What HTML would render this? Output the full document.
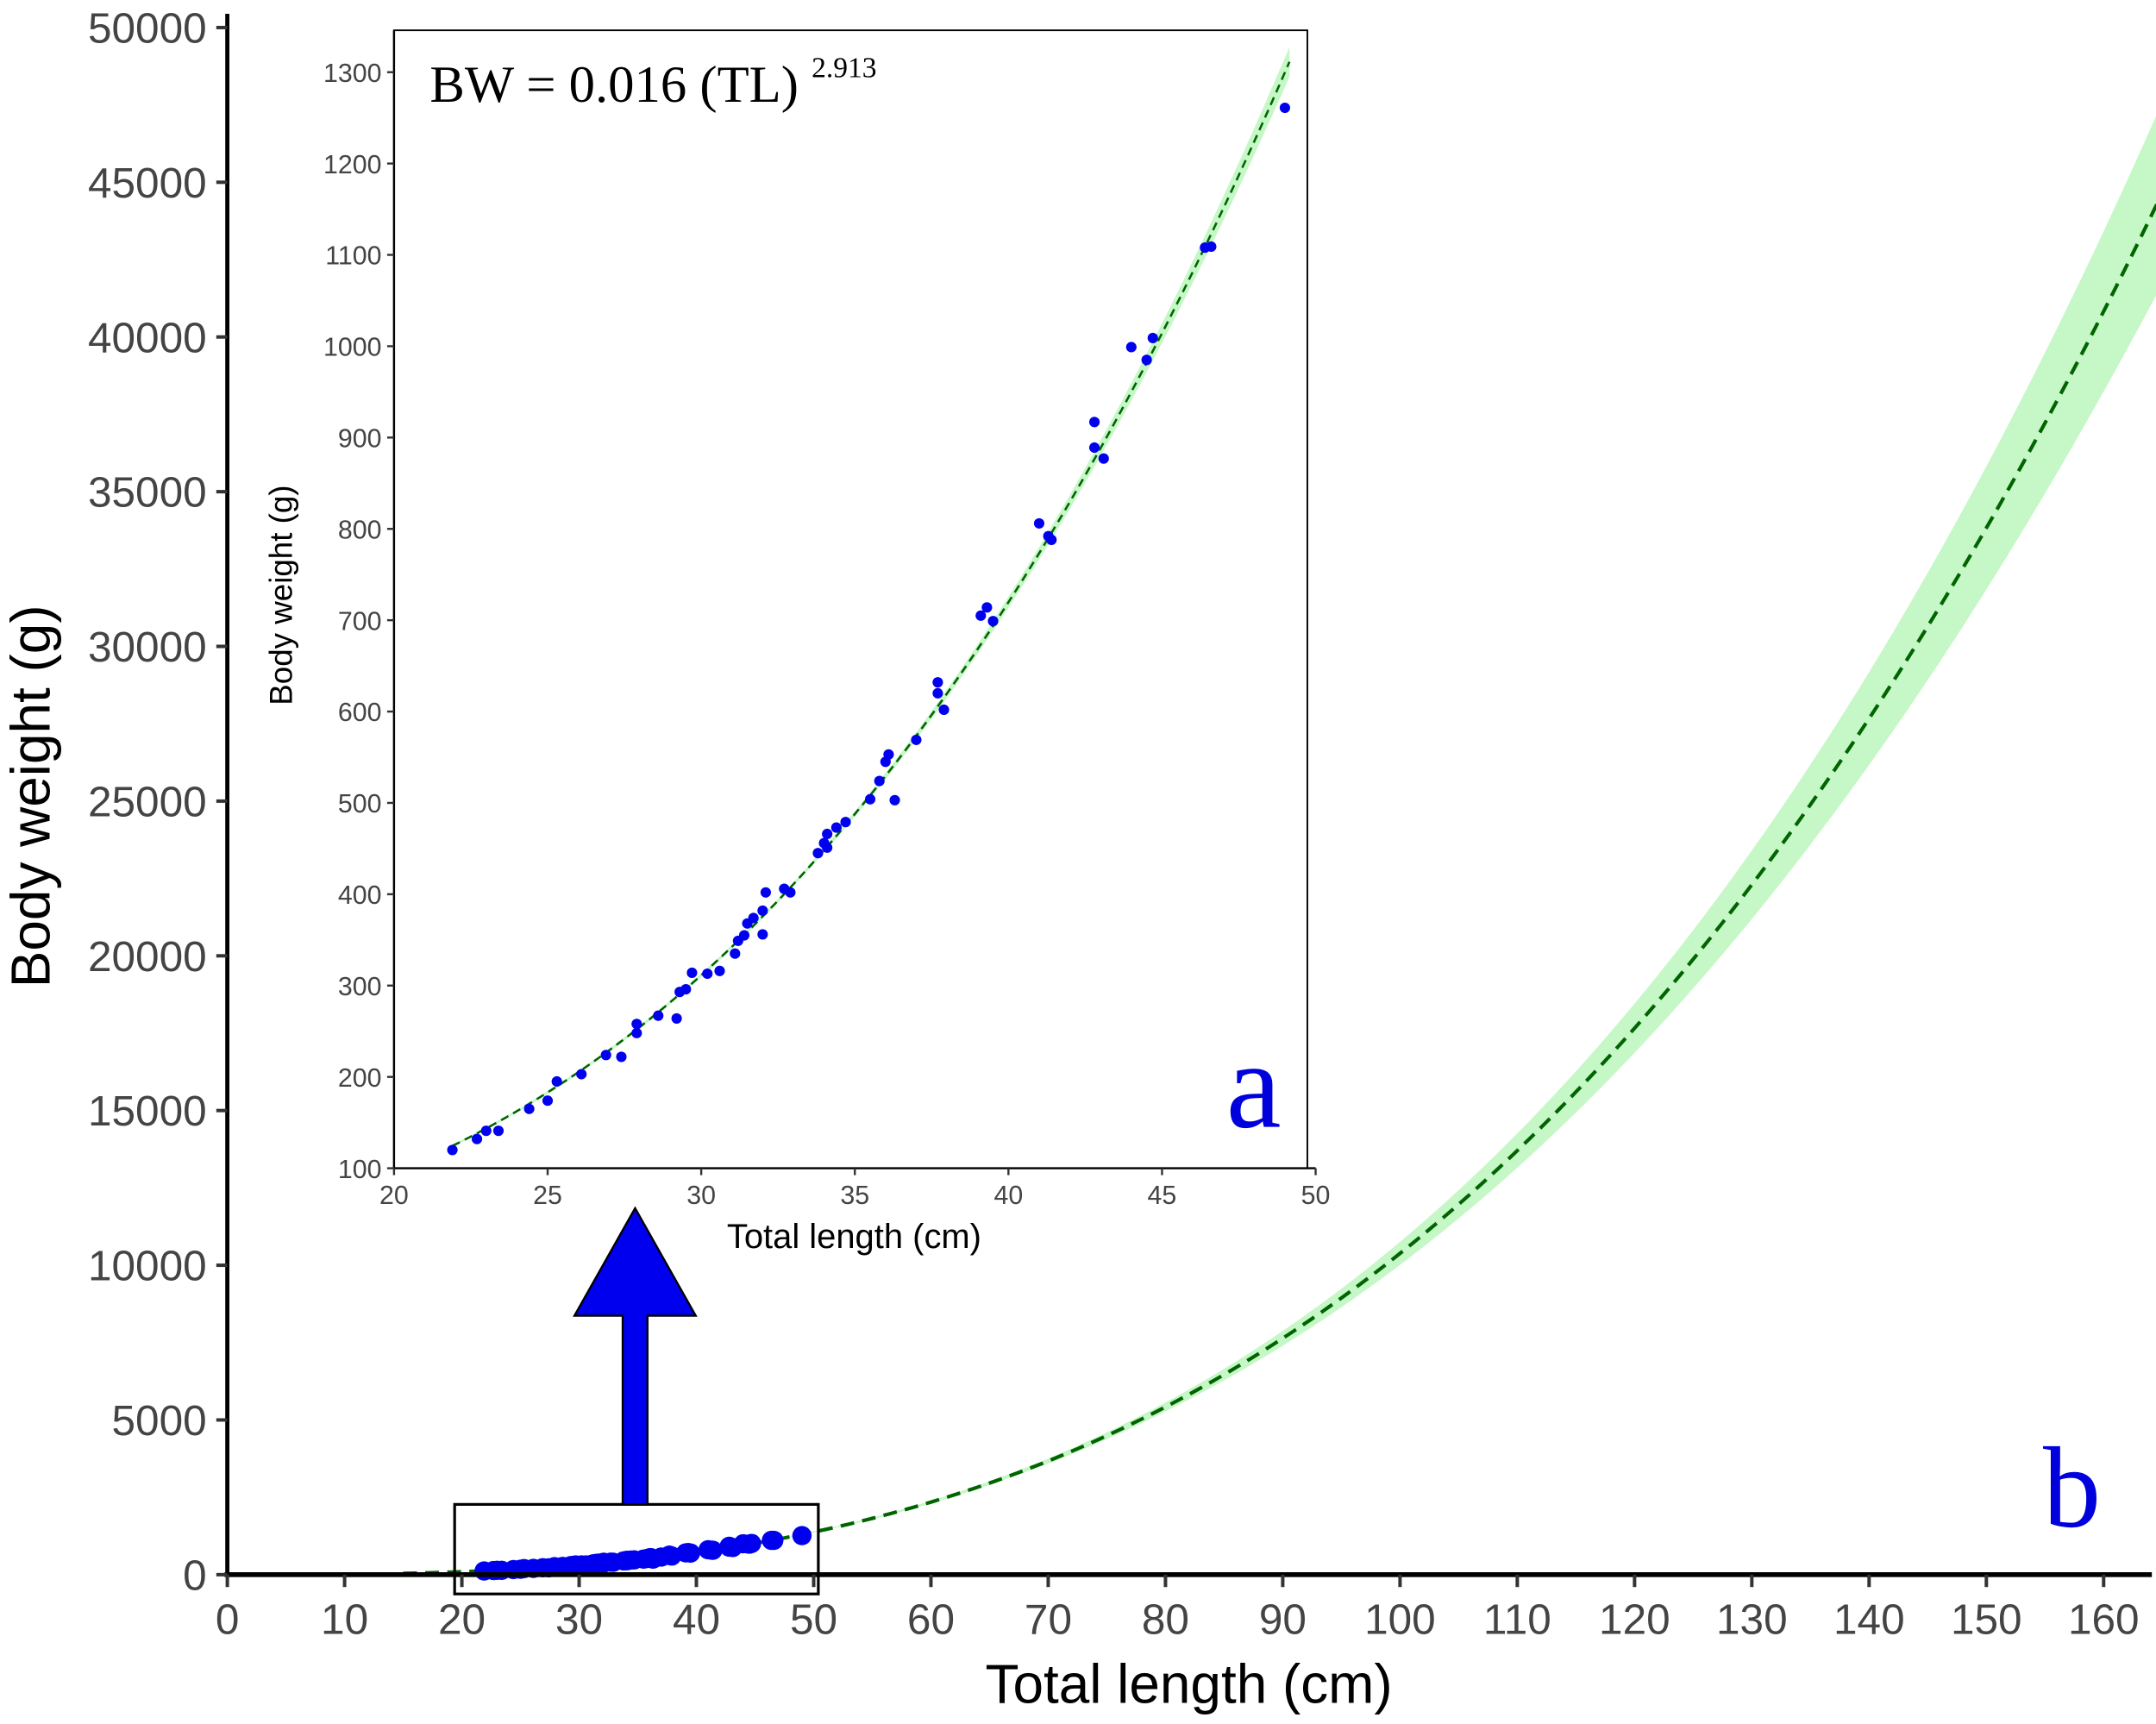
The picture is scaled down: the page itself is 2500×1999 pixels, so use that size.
<!DOCTYPE html>
<html><head><meta charset="utf-8">
<style>
html,body{margin:0;padding:0;background:#fff;}
svg{display:block;}
text{font-family:"Liberation Sans",Arial,sans-serif;}
</style></head>
<body>
<svg id="chart" width="2500" height="1999" viewBox="0 0 1565 1251.4" xmlns="http://www.w3.org/2000/svg">
</svg>
<script>
const lengths = [21.9,22.7,23.0,23.4,24.4,25.0,25.3,26.1,26.9,27.4,27.9,27.9,28.6,29.2,29.3,29.5,29.7,30.2,30.6,31.1,31.2,31.4,31.5,31.7,32.0,32.0,32.1,32.7,32.9,33.8,34.0,34.1,34.1,34.4,34.7,35.5,35.8,36.0,36.1,36.3,37.0,37.7,37.7,37.9,39.1,39.3,39.5,41.0,41.3,41.4,42.8,42.8,43.1,44.0,44.5,44.7,46.4,46.6,49.0];
const weights = [120,132,141,141,165,174,195,203,224,222,248,258,267,264,293,296,314,313,316,335,349,355,368,374,382,356,402,406,402,445,456,466,451,473,479,504,524,545,553,503,569,632,620,602,705,714,699,806,792,788,889,917,877,999,985,1009,1108,1109,1261];
const fitA = 0.0155;
const fitB = 2.913;
const mainXTicks = [0,10,20,30,40,50,60,70,80,90,100,110,120,130,140,150,160];
const mainYTicks = [0,5000,10000,15000,20000,25000,30000,35000,40000,45000,50000];
const insetXTicks = [20,25,30,35,40,45,50];
const insetYTicks = [100,200,300,400,500,600,700,800,900,1000,1100,1200,1300];

const NS="http://www.w3.org/2000/svg";
const svg=document.getElementById('chart');
function mk(tag,attrs,parent,txt){const e=document.createElementNS(NS,tag);for(const k in attrs)e.setAttribute(k,attrs[k]);if(txt!==undefined)e.textContent=txt;(parent||svg).appendChild(e);return e;}
const fit=L=>fitA*Math.pow(L,fitB);
const rel=L=>0.005+0.00046*Math.abs(L-33);
const SERIF='font-family:"Liberation Serif","Times New Roman",serif';

const mx=L=>165+L*8.5125;
const my=W=>1143-W*1123/50000;
const ix=L=>286+(L-20)*22.3;
const iy=W=>848-(W-100)*0.663;

const gMain=mk('g',{});


let up=[],lo=[];
for(let L=15;L<=165;L+=1){up.push(mx(L)+','+my(fit(L)*(1+rel(L))));lo.unshift(mx(L)+','+my(fit(L)*(1-rel(L))));}
const band=mk('polygon',{points:up.concat(lo).join(' '),fill:'#c6f7c6',stroke:'none'},gMain);


let pts=[];for(let L=15;L<=165;L+=0.5)pts.push(mx(L)+','+my(fit(L)));
const line=mk('polyline',{points:pts.join(' '),fill:'none',stroke:'#006400','stroke-width':2.6,'stroke-dasharray':'10 6'},gMain);


lengths.forEach((L,i)=>{const c=mk('circle',{cx:mx(L),cy:my(weights[i]),r:7,fill:'#0000ee'},gMain);

});
const ya=mk('line',{x1:165,y1:10,x2:165,y2:1144,stroke:'#000','stroke-width':3},gMain);

const xa=mk('line',{x1:163,y1:1143,x2:1562,y2:1143,stroke:'#000','stroke-width':3.5},gMain);

mainXTicks.forEach(t=>{mk('line',{x1:mx(t),y1:1143,x2:mx(t),y2:1152,stroke:'#333','stroke-width':2.5},gMain);
const tx=mk('text',{x:mx(t),y:1186,'font-size':31,fill:'#444','text-anchor':'middle'},gMain,t);
});
mainYTicks.forEach(t=>{mk('line',{x1:157,y1:my(t),x2:165,y2:my(t),stroke:'#333','stroke-width':2.5},gMain);
const tx=mk('text',{x:150,y:my(t)+11,'font-size':31,fill:'#444','text-anchor':'end'},gMain,t);
});
const xt=mk('text',{x:863,y:1236,'font-size':40,fill:'#000','text-anchor':'middle'},gMain,'Total length (cm)');

const yt=mk('text',{x:0,y:0,'font-size':40,fill:'#000','text-anchor':'middle',transform:'translate(36,578) rotate(-90)'},gMain,'Body weight (g)');

const lb=mk('text',{x:1504,y:1108,'font-size':84,fill:'#0000dd','text-anchor':'middle',style:SERIF},gMain,'b');

const zb=mk('rect',{x:330,y:1092,width:264,height:65,fill:'none',stroke:'#000','stroke-width':2},gMain);

const ar=mk('polygon',{points:'452,1092 470,1092 470,955 505,955 461,877 417,955 452,955',fill:'#0000ee',stroke:'#000','stroke-width':1.5},gMain);


const gIn=mk('g',{});


const bg=mk('rect',{x:286,y:22,width:663,height:826,fill:'#fff',stroke:'#000','stroke-width':1.2},gIn);

up=[];lo=[];
for(let L=21.9;L<=49.25;L+=0.25){up.push(ix(L)+','+iy(fit(L)*(1+rel(L))));lo.unshift(ix(L)+','+iy(fit(L)*(1-rel(L))));}
const ib=mk('polygon',{points:up.concat(lo).join(' '),fill:'#c6f7c6'},gIn);

pts=[];for(let L=21.9;L<=49.25;L+=0.25)pts.push(ix(L)+','+iy(fit(L)));
const il=mk('polyline',{points:pts.join(' '),fill:'none',stroke:'#006400','stroke-width':1.6,'stroke-dasharray':'6 4'},gIn);

lengths.forEach((L,i)=>{const c=mk('circle',{cx:ix(L),cy:iy(weights[i]),r:3.8,fill:'#0000ee'},gIn);

});
mk('line',{x1:286,y1:848,x2:955,y2:848,stroke:'#000','stroke-width':1.5},gIn);
mk('line',{x1:286,y1:22,x2:286,y2:848,stroke:'#000','stroke-width':1.5},gIn);
insetXTicks.forEach(t=>{mk('line',{x1:ix(t),y1:848,x2:ix(t),y2:853,stroke:'#333','stroke-width':1.5},gIn);
const tx=mk('text',{x:ix(t),y:874,'font-size':19,fill:'#444','text-anchor':'middle'},gIn,t);
});
insetYTicks.forEach(t=>{mk('line',{x1:281,y1:iy(t),x2:286,y2:iy(t),stroke:'#333','stroke-width':1.5},gIn);
const tx=mk('text',{x:277,y:iy(t)+7,'font-size':19,fill:'#444','text-anchor':'end'},gIn,t);
});
const ixt=mk('text',{x:620,y:906,'font-size':25,fill:'#000','text-anchor':'middle'},gIn,'Total length (cm)');

const iyt=mk('text',{x:0,y:0,'font-size':23,fill:'#000','text-anchor':'middle',transform:'translate(212,432) rotate(-90)'},gIn,'Body weight (g)');

const eq=mk('text',{x:312,y:74,'font-size':38,fill:'#000',style:SERIF},gIn);

eq.textContent='BW = 0.016 (TL) ';
mk('tspan',{'font-size':21,dy:-18},eq,'2.913');
const la=mk('text',{x:910,y:818,'font-size':90,fill:'#0000dd','text-anchor':'middle',style:SERIF},gIn,'a');

</script>
</body></html>
